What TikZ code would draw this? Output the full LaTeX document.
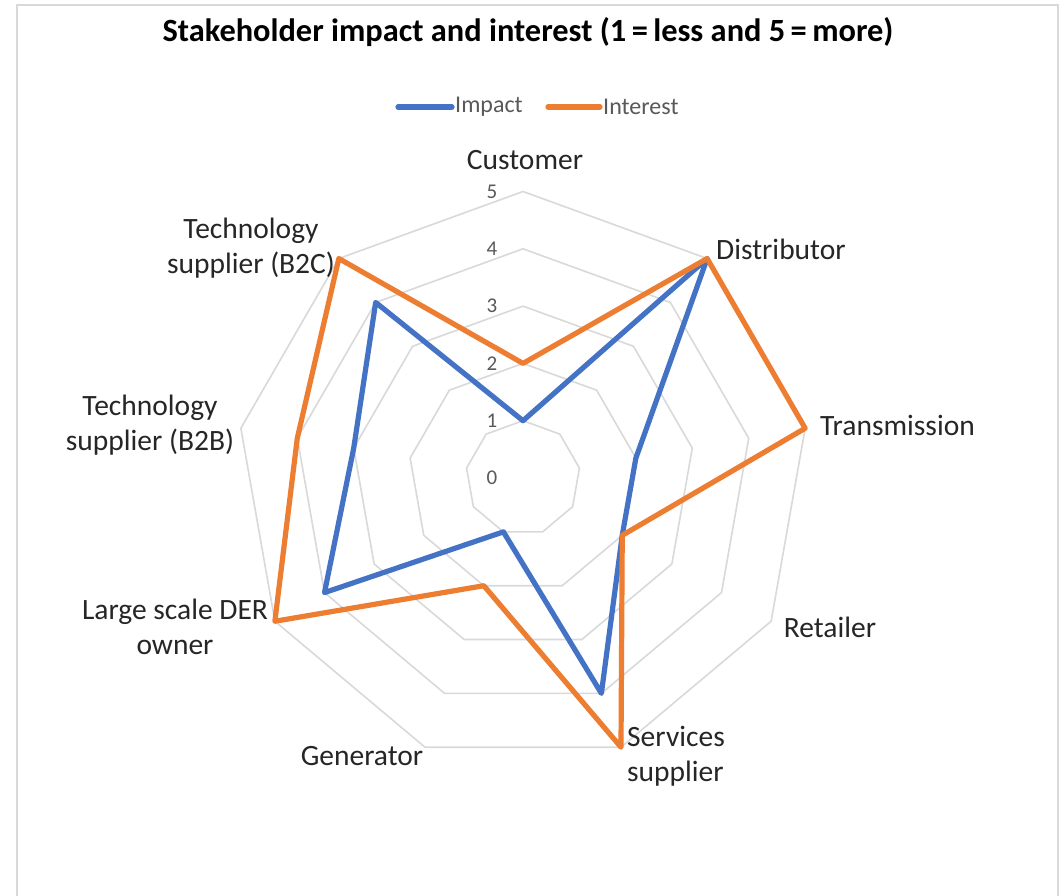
\documentclass[tikz,border=0pt]{standalone}
\usepackage{fontspec}
\setmainfont{Carlito}
\usetikzlibrary{calc}
\definecolor{impblue}{HTML}{4472C4}
\definecolor{intorange}{HTML}{ED7D31}
\definecolor{gridgray}{HTML}{D9D9D9}
\definecolor{ticktext}{HTML}{595959}
\definecolor{frame}{HTML}{D9D9D9}
\begin{document}
\begin{tikzpicture}[x=1pt,y=1pt,
  gridline/.style={draw=gridgray,line width=1.6pt,line join=miter},
  series/.style={line width=5.2pt,line join=round,line cap=round},
  axislabel/.style={font=\fontsize{29.5}{35}\selectfont,text=black!85,inner sep=0pt,align=center},
  ticklabel/.style={font=\fontsize{21}{24}\selectfont,text=ticktext,inner sep=0pt},
  legendtext/.style={font=\fontsize{24}{28}\selectfont,text=ticktext,inner sep=0pt,anchor=west},
  titletext/.style={font=\fontsize{32.4}{38}\bfseries\selectfont,text=black,inner sep=0pt}]
\useasboundingbox (0,0) rectangle (1060,-895);
\fill[white] (0,0) rectangle (1060,-895);
% chart frame
\draw[draw=frame,line width=2pt] (17,-897) -- (17,-5) -- (1058,-5) -- (1058,-897);
\coordinate (c) at (523,-478);
\def\u{57.3}
% grid rings
\foreach \r in {1,...,5}{
  \draw[gridline] ($(c)+(90:\r*\u)$)
    \foreach \k in {1,...,8}{ -- ($(c)+(90-40*\k:\r*\u)$) } -- cycle;
}
% tick labels
\foreach \r in {0,...,5}{
  \node[ticklabel] (t\r) at (492,-478+\r*\u) {\r};
}
% data coordinates
\foreach \k/\a/\b in {0/1/2,1/5/5,2/2/5,3/2/2,4/4/5,5/1/2,6/4/5,7/3/4,8/4/5}{
  \coordinate (imp\k) at ($(c)+(90-40*\k:\a*\u)$);
  \coordinate (int\k) at ($(c)+(90-40*\k:\b*\u)$);
}
\draw[series,impblue] (imp0) -- (imp1) -- (imp2) -- (imp3) -- (imp4) -- (imp5) -- (imp6) -- (imp7) -- (imp8) -- cycle;
\draw[series,intorange] (int0) -- (int1) -- (int2) -- (int3) -- (int4) -- (int5) -- (int6) -- (int7) -- (int8) -- cycle;
% axis labels
\node[axislabel] (lcust) at (525,-160) {Customer};
\node[axislabel,anchor=west] (ldist) at (716,-249) {Distributor};
\node[axislabel,anchor=west] (ltrans) at (820,-425) {Transmission};
\node[axislabel] (lret) at (830,-627) {Retailer};
\node[axislabel,anchor=west,align=left] (lserv) at (627,-756) {Services\\supplier};
\node[axislabel] (lgen) at (362,-756) {Generator};
\node[axislabel] (lder) at (175,-627) {Large scale DER\\owner};
\node[axislabel] (lb2b) at (150,-425) {Technology\\supplier (B2B)};
\node[axislabel] (lb2c) at (251,-248) {Technology\\supplier (B2C)};
% title
\node[titletext] (title) at (528,-32) {Stakeholder impact and interest (1\,=\,less and 5\,=\,more)};
% legend
\coordinate (lg1a) at (398,-107); \coordinate (lg1b) at (452,-107);
\coordinate (lg2a) at (548,-107); \coordinate (lg2b) at (600,-107);
\draw[series,impblue] (lg1a) -- (lg1b);
\node[legendtext] (limp) at (455,-107) {Impact};
\draw[series,intorange] (lg2a) -- (lg2b);
\node[legendtext] (lint) at (603,-107) {Interest};
\end{tikzpicture}
\end{document}
